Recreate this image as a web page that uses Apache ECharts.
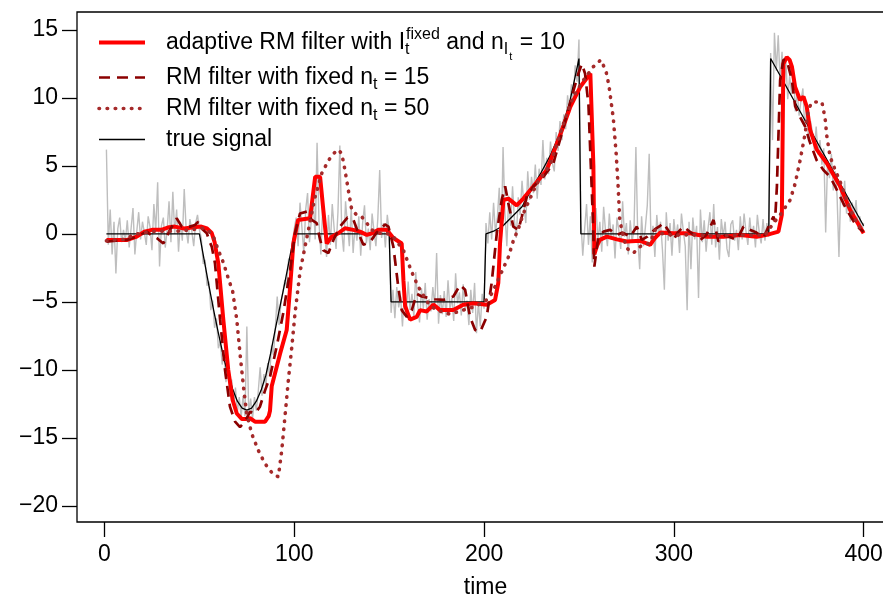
<!DOCTYPE html>
<html>
<head>
<meta charset="utf-8">
<script src="https://cdn.jsdelivr.net/npm/echarts@6/dist/echarts.min.js"></script>
<style>
html,body{margin:0;padding:0;background:#fff;}
#chart{width:883px;height:598px;}
</style>
</head>
<body>
<div id="chart"></div>
<script>
// ---------- data ----------
const xTicks = [0, 100, 200, 300, 400];
const yTicks = [-20, -15, -10, -5, 0, 5, 10, 15];

// noisy observations, t = 1..400
const obs = [
 6.2,-0.8,1.8,-1.5,0.9,-2.9,0.4,1.2,-0.6,0.3,
 -0.5,1.0,-1.0,0.4,1.9,-1.5,0.2,1.6,-0.4,0.9,
 0.1,-0.8,1.3,0.5,-1.2,2.2,0.2,3.8,-2.4,0.6,
 1.2,-1.0,0.3,2.4,-0.6,3.1,0.0,1.8,-1.3,0.9,
 -0.5,3.3,0.4,-0.7,1.1,0.2,-0.9,0.8,1.4,0.3,
 -0.3,-2.2,-1.9,-3.8,-3.5,-5.6,-4.9,-6.9,-6.2,-8.4,
 -7.9,-9.6,-8.8,-10.9,-9.8,-11.8,-10.7,-12.6,-11.3,-13.1,
 -12.0,-13.5,-11.9,-13.4,-6.8,-13.2,-12.1,-13.6,-12.0,-13.0,
 -11.6,-9.8,-11.9,-10.3,-11.2,-9.5,-10.4,-8.2,-8.9,-6.9,
 -4.6,-6.7,-5.0,-4.3,-3.4,-3.9,-1.8,-2.2,-0.6,0.4,
 1.2,-0.9,2.3,0.5,-1.4,1.8,3.0,-0.6,1.1,2.6,
 -0.4,6.7,0.9,-1.5,2.1,0.3,-1.7,1.4,-0.8,2.2,
 0.4,-1.1,1.6,6.5,0.2,-1.3,2.4,0.7,-0.9,1.9,
 -1.4,0.6,-0.5,1.3,-1.6,0.8,2.1,-0.7,0.4,-1.2,
 1.5,0.2,-0.9,1.1,4.7,-0.3,0.8,-1.0,1.4,0.2,
 -5.8,-4.1,-6.2,-3.9,-5.4,-4.6,-6.8,-4.3,-5.9,-3.5,
 -5.6,-4.4,-6.1,-2.8,-5.2,-6.5,-4.0,-5.5,-3.6,-6.3,
 -4.8,-5.7,-3.9,-5.3,-1.4,-6.6,-4.5,-5.9,-4.2,-6.1,
 -3.4,-5.5,-4.7,-6.4,-2.9,-5.1,-4.3,-6.0,-3.7,-5.6,
 -4.9,-6.7,-4.1,-5.8,-3.6,-7.3,-5.0,-6.8,-4.4,-5.5,
 0.8,-0.7,1.6,-0.4,2.3,0.1,1.2,3.4,-0.9,6.4,
 1.5,-0.9,2.8,0.6,3.5,1.0,-0.3,2.7,1.4,3.9,
 2.1,0.8,4.6,2.5,4.2,3.0,5.1,2.6,4.8,3.6,
 6.9,4.0,5.6,4.4,6.8,5.2,4.6,7.5,6.1,8.3,
 6.9,8.8,7.7,10.2,8.9,11.0,9.8,12.4,11.2,14.3,
 1.1,-1.6,0.4,2.2,-0.8,1.3,-2.1,0.6,1.9,-0.5,
 0.9,-1.3,2.0,0.2,-0.9,1.5,-0.4,0.7,-1.8,1.2,
 0.3,-1.1,2.4,-0.2,0.8,-1.5,1.0,-0.6,0.4,6.4,
 -0.3,-2.6,1.3,-0.9,0.5,2.1,5.9,-0.8,0.6,-1.7,
 1.4,-0.2,0.9,-1.2,-4.1,1.6,-0.5,0.8,-1.6,1.1,
 -0.3,0.7,-1.4,1.5,0.2,-0.9,-5.6,0.9,-2.6,1.2,
 -0.4,0.6,-4.7,1.8,-0.6,1.0,-1.3,0.4,1.6,-0.8,
 2.2,-1.0,0.5,-1.9,1.1,-0.2,0.9,-1.1,-1.7,0.7,
 1.0,-0.5,0.3,-1.2,1.3,-0.4,1.5,0.2,-0.8,1.2,
 -0.3,0.6,-1.0,1.4,0.1,-0.7,1.1,-0.5,0.8,-0.2,
 13.3,6.9,14.8,12.0,14.6,11.2,13.4,10.6,12.8,9.9,
 11.6,10.3,12.1,9.0,10.5,8.7,9.8,10.7,7.6,9.2,
 6.8,8.3,7.5,6.2,7.9,5.8,6.9,5.1,6.3,0.1,
 5.4,4.1,5.9,3.2,4.6,2.8,-1.7,3.6,2.1,3.9,
 1.5,2.7,0.9,2.3,1.2,2.5,0.4,1.3,0.2,0.8
];

// true signal [time, value]
const trueSignal = [
 [1,0],[50,0],[52.5,-1.9],[55,-3.8],[57.5,-5.6],[60,-7.3],[62.5,-8.9],[65,-10.3],
 [67.5,-11.4],[70,-12.3],[72.5,-12.8],[75,-12.95],[77.5,-12.8],[80,-12.3],[82.5,-11.5],
 [85,-10.4],[87.5,-8.8],[90,-7.0],[92.5,-5.3],[95,-3.6],[97.5,-1.8],[100,0],
 [150,0],[151,-5],[200,-5],[201,0],
 [205,0.2],[210,0.6],[215,1.3],[220,2.0],[225,3.3],[230,4.5],[235,5.8],[240,7.4],
 [245,9.6],[250,12.9],[251,0],[350,0],[351,12.9],[400,0.6]
];

// adaptive RM filter
const adaptiveRM = [
 [1,-0.44],[12,-0.44],[17,-0.2],[21,0.17],[25,0.3],[30,0.3],[34,0.5],[37,0.54],
 [42,0.4],[47,0.5],[51,0.54],[54,0.4],[56.5,0.07],[58,-0.6],[60,-2.2],[62.6,-6.3],
 [65.2,-10],[67.5,-12.2],[69.7,-13.2],[72.3,-13.6],[74.5,-13.6],[76.7,-13.55],[79.3,-13.8],
 [84.6,-13.8],[86.5,-13.4],[87.2,-13.0],[88.1,-11.2],[92.5,-8.8],[96,-7.06],[97.8,-3.9],
 [99.5,-0.7],[102,1.03],[103,1.15],[108.3,1.15],[111,4.2],[113.6,4.2],[115.3,1.76],
 [117.1,-0.7],[119.7,-0.2],[123.2,0.05],[126.7,0.42],[131.1,0.3],[134.6,0.17],[138.2,-0.07],
 [141,0.05],[144.3,0.3],[148.7,0.3],[152.2,-0.3],[156.6,-0.7],[157.5,-3.4],[158.4,-5.3],
 [161,-6.3],[164.5,-6.1],[166.3,-5.6],[169.8,-5.7],[173.3,-5.2],[176.8,-5.6],[183.8,-5.6],
 [189,-5.2],[194.4,-5.1],[201.4,-5.2],[205.8,-4.85],[207.5,-3.6],[208.4,-0.7],[210.2,2.5],
 [212.8,2.6],[217.2,2.1],[220.7,2.6],[226,3.5],[233,4.7],[238,6.5],[242,8.0],[245.3,9.3],
 [250.6,10.8],[256,11.8],[257,11.9],[257.6,5],[258.1,-1.5],[259.4,-0.9],[261,-0.44],
 [264.7,-0.2],[270,-0.4],[275.2,-0.56],[282.2,-0.5],[287.5,-0.8],[290,-0.3],[292.8,0.1],
 [299.8,0.05],[308.6,0.05],[317.4,-0.2],[326.1,-0.2],[334.9,-0.07],[343.7,-0.2],[349,-0.07],
 [355.1,0.17],[356.9,1.4],[357.7,12.5],[359.5,13.0],[361,12.8],[362.2,12.3],[363.9,10.8],
 [366.5,9.85],[368.3,10.1],[370,9.36],[371.8,7.65],[375.3,6.2],[380.6,5.2],[387.6,3.5],
 [392.9,1.76],[400,0.05]
];

// RM filter, fixed window n_t = 15
const fixedRM15 = [
 [1,-0.56],[6,-0.5],[11.7,-0.44],[17,-0.2],[22.2,0.17],[25.7,-0.2],[27.5,-0.3],[31,-0.7],
 [34.5,0.3],[38,1.15],[40.7,0.54],[45,0.54],[47.7,0.66],[49.4,0.9],[51.2,0.4],[53.9,0.05],
 [55.5,-0.6],[56.5,-0.93],[58.2,-2.15],[60.9,-6.3],[63.5,-10],[66.1,-12.7],[68.8,-13.8],
 [71.4,-14.2],[74,-13.8],[76.7,-13.07],[79.3,-13.2],[81.9,-12.7],[84.6,-11.5],[87.2,-10.5],
 [90.7,-8.3],[94.2,-5.8],[97.8,-2.65],[100.4,0.05],[103,1.5],[106.6,1.64],[109.2,1.03],
 [111.8,0.79],[113.6,-0.44],[115.3,-1.2],[118,-1.4],[120.6,-0.44],[124.1,0.54],[128,1.2],
 [131,1.1],[133.8,0.05],[136.4,-0.8],[139.9,-0.6],[143.4,0.1],[147.8,0.7],[149.6,0.54],
 [152.2,-0.93],[154.8,-3.9],[156.6,-5.6],[159.3,-6.1],[161.9,-5.6],[164.5,-4.4],[167.2,-4.6],
 [170.7,-4.7],[174,-4.8],[178.6,-4.85],[183.8,-4.6],[187.4,-3.75],[190,-4.1],[192.6,-6.1],
 [195.3,-7.06],[197.9,-7.2],[201.4,-6.1],[204,-3.6],[206.7,0.05],[209.3,2.5],[211.1,3.5],
 [212.8,2.25],[215.4,0.54],[218.1,0.3],[219.9,1.27],[222.5,2.74],[226,3.5],[231.3,4.2],
 [236.5,5.2],[242,7.9],[246,10.0],[249.7,11.8],[251.5,12.5],[253.2,11.8],[255,9.5],
 [256.2,5.2],[257.3,1.27],[258.1,-2.4],[260.2,-0.2],[262.9,0.17],[266.4,0.3],[270,-0.07],
 [273,0.1],[277,-0.2],[280.5,0.54],[283.1,-0.44],[286,-0.2],[290.1,0.35],[292.8,0.6],
 [294.5,0.8],[296.3,0.42],[298,0.05],[299.8,-0.44],[302,0.1],[305,0.54],[309,0.1],
 [313.9,-0.44],[317,-0.1],[320.9,1.03],[323.5,-0.56],[327,-0.1],[333.2,-0.44],[336.7,0.54],
 [340,0.3],[343.5,0.1],[347.2,-0.3],[350.7,0.8],[352.5,1.27],[353.3,0.9],[354.3,3.5],
 [356,11.3],[357.7,12.8],[359.5,12.8],[362.2,11.3],[363.9,9.4],[366.5,8.6],[369.2,7.9],
 [371.8,6.7],[375.3,5.4],[378.8,4.7],[382.3,4.2],[385,3.5],[387.6,2.74],[391.1,1.76],
 [396.4,0.54],[400,0.17]
];

// RM filter, fixed window n_t = 50
const fixedRM50 = [
 [1,-0.5],[5,-0.45],[10,-0.4],[17,0],[24,0.17],[31,0.2],[38,0.2],[45,0.3],[52,0.42],
 [55,0.2],[57.4,-0.2],[60,-1.2],[62.6,-2.1],[65.2,-3.26],[67.5,-4.2],[69.7,-6.3],
 [71.4,-8.8],[73.2,-11.2],[74.9,-13.2],[77.6,-14.7],[81,-15.9],[84.6,-16.9],[89,-17.7],
 [91.6,-17.85],[93.4,-15.9],[95.1,-13.4],[96.9,-10.7],[98.7,-8.3],[100.4,-5.8],[103,-2.8],
 [105.7,-0.9],[108.3,0.9],[111,2.74],[114.5,4.46],[118,5.4],[120.6,5.9],[123.2,6.2],
 [125,5.9],[126.7,4.7],[128.5,3.2],[130.3,1.76],[132.9,1.4],[135.5,1.27],[138.2,0.79],
 [140.8,0.3],[144.3,0.05],[148,0.1],[152.2,-0.2],[154.8,-0.7],[157.5,-1.2],[160.1,-2.15],
 [162.8,-3.1],[165.4,-3.9],[168,-4.5],[171,-5.2],[175,-5.6],[182,-5.9],[189,-5.6],
 [196,-5.3],[201.4,-4.85],[204,-4.4],[206.7,-3.6],[210.2,-2.5],[212.8,-1.7],[215.4,-0.5],
 [218.1,0.4],[220.7,1.5],[224.2,2.6],[227.8,3.7],[234.8,5.1],[241.8,8.1],[247,10.1],
 [252.3,11.3],[257.6,12.3],[261.5,12.8],[264.2,12.0],[265.8,10.9],[268.1,8.5],[269.6,5.9],
 [270.6,3.6],[271.5,1.0],[273.4,-0.2],[275.2,-1.05],[278.7,-1.4],[282.2,-0.93],[287.5,-0.65],
 [290.1,0.3],[292.8,0.05],[300,-0.1],[310,-0.05],[320,-0.15],[330,-0.1],[340,-0.1],
 [348,-0.1],[352.5,0.8],[356,1.4],[361.3,2.5],[363.9,3.7],[366.5,5.4],[369.2,7.4],
 [370.9,9.2],[373,9.7],[378,9.7],[379.7,8.5],[380.6,7.2],[382.3,5.7],[385,4.7],
 [387.6,3.85],[391.1,2.5],[394.6,1.27],[400,0.05]
];

// ---------- chart ----------
const FONT = '"Liberation Sans", Arial, Helvetica, sans-serif';
const names = [
  'adaptive RM filter',
  'RM filter with fixed n_t = 15',
  'RM filter with fixed n_t = 50',
  'true signal'
];
const richStyles = {
  m:   {fontSize: 23, fontFamily: FONT, color: '#000', lineHeight: 31},
  sup: {fontSize: 16, fontFamily: FONT, color: '#000', lineHeight: 15, verticalAlign: 'top'},
  sub: {fontSize: 16, fontFamily: FONT, color: '#000', lineHeight: 15, verticalAlign: 'bottom', width: 1},
  sub2:{fontSize: 16, fontFamily: FONT, color: '#000', lineHeight: 15, verticalAlign: 'bottom'},
  sub3:{fontSize: 11, fontFamily: FONT, color: '#000', lineHeight: 11, verticalAlign: 'bottom', padding: [0,1,-4,1]}
};
function legendText(name) {
  if (name === names[0]) return '{m|adaptive RM filter with I}{sub|t}{sup|fixed}{m| and n}{sub2|I}{sub3|t}{m| = 10}';
  if (name === names[1]) return '{m|RM filter with fixed n}{sub2|t}{m| = 15}';
  if (name === names[2]) return '{m|RM filter with fixed n}{sub2|t}{m| = 50}';
  return '{m|true signal}';
}

const chart = echarts.init(document.getElementById('chart'), null, {renderer: 'canvas'});
chart.setOption({
  animation: false,
  backgroundColor: '#fff',
  grid: {left: 77, top: 12, width: 817, height: 510, show: true, borderColor: '#000', borderWidth: 1.3,
         backgroundColor: 'transparent', containLabel: false, outerBoundsMode: 'none'},
  legend: {
    show: true,
    selectedMode: false,
    orient: 'vertical',
    left: 97, top: 27,
    padding: 0,
    itemGap: 0,
    itemWidth: 46, itemHeight: 14,
    data: names,
    formatter: legendText,
    itemStyle: {opacity: 0},
    lineStyle: {width: 'inherit', type: 'inherit', cap: 'inherit'},
    textStyle: {fontSize: 23, fontFamily: FONT, color: '#000', lineHeight: 31, padding: [0,0,0,16], rich: richStyles}
  },
  xAxis: {
    type: 'value', min: -14.5, max: 416,
    name: 'time', nameLocation: 'middle', nameGap: 54,
    nameTextStyle: {fontSize: 23, fontFamily: FONT, color: '#000'},
    splitLine: {show: false},
    axisLine: {show: false, onZero: false},
    axisTick: {show: true, customValues: xTicks, length: 15, lineStyle: {color: '#000', width: 1.3}},
    axisLabel: {show: true, customValues: xTicks, margin: 21, fontSize: 23, fontFamily: FONT, color: '#000'}
  },
  yAxis: {
    type: 'value', min: -21.18, max: 16.32,
    splitLine: {show: false},
    axisLine: {show: false, onZero: false},
    axisTick: {show: true, customValues: yTicks, length: 15, lineStyle: {color: '#000', width: 1.3}},
    axisLabel: {show: true, customValues: yTicks, margin: 19, fontSize: 23, fontFamily: FONT, color: '#000',
      formatter: v => (v < 0 ? '\u2212' + Math.abs(v) : String(v))}
  },
  series: [
    {name: 'observations', type: 'line', data: obs.map((v, i) => [i + 1, v]), symbol: 'none', silent: true,
     lineStyle: {color: '#bebebe', width: 1.4}},
    {name: names[3], type: 'line', data: trueSignal, symbol: 'none', silent: true,
     lineStyle: {color: '#000', width: 1.3}, itemStyle: {color: '#000'}},
    {name: names[0], type: 'line', data: adaptiveRM, symbol: 'none', silent: true,
     lineStyle: {color: '#ff0000', width: 4}, itemStyle: {color: '#ff0000'}},
    {name: names[1], type: 'line', data: fixedRM15, symbol: 'none', silent: true,
     lineStyle: {color: '#8b0000', width: 2.7, type: [11, 7]}, itemStyle: {color: '#8b0000'}},
    {name: names[2], type: 'line', data: fixedRM50, symbol: 'none', silent: true,
     lineStyle: {color: '#a52a2a', width: 3.6, type: [0.5, 7.6], cap: 'round'}, itemStyle: {color: '#a52a2a'}}
  ]
});
</script>
</body>
</html>
